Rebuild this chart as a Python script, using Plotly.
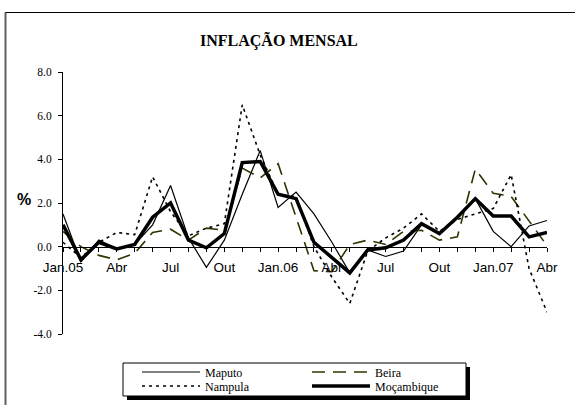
import plotly.graph_objects as go

# ---------------- data ----------------
months = ["Jan.05", "Fev.05", "Mar.05", "Abr.05", "Mai.05", "Jun.05", "Jul.05", "Ago.05",
          "Set.05", "Out.05", "Nov.05", "Dez.05", "Jan.06", "Fev.06", "Mar.06", "Abr.06",
          "Mai.06", "Jun.06", "Jul.06", "Ago.06", "Set.06", "Out.06", "Nov.06", "Dez.06",
          "Jan.07", "Fev.07", "Mar.07", "Abr.07"]

tick_months = ["Jan.05", "Abr.05", "Jul.05", "Out.05", "Jan.06", "Abr.06", "Jul.06",
               "Out.06", "Jan.07", "Abr.07"]
tick_texts = ["Jan.05", "Abr", "Jul", "Out", "Jan.06", "Abr", "Jul", "Out", "Jan.07", "Abr"]

maputo = [1.5, -0.7, 0.3, -0.1, 0.1, 1.0, 2.8, 0.4, -0.95, 0.3, 2.4, 4.4, 1.8, 2.5,
          1.5, 0.2, -1.2, -0.15, -0.45, -0.2, 1.0, 0.6, 1.3, 2.2, 0.7, 0.0, 0.95, 1.2]
beira = [0.7, 0.0, -0.4, -0.6, -0.3, 0.65, 0.8, 0.3, 0.85, 0.75, 3.6, 3.15, 3.8, 1.3,
         -1.1, -1.15, 0.1, 0.3, 0.1, 0.7, 0.75, 0.3, 0.45, 3.55, 2.45, 2.3, 1.2, 0.05]
nampula = [0.2, -0.5, 0.2, 0.65, 0.55, 3.2, 1.6, 0.5, 0.85, 1.05, 6.5, 4.2, 2.4, 2.3,
           0.0, -1.4, -2.6, -0.2, 0.4, 0.85, 1.5, 0.7, 1.25, 1.5, 1.75, 3.3, -1.0, -3.0]
mocambique = [1.0, -0.6, 0.2, -0.1, 0.1, 1.35, 2.0, 0.3, -0.05, 0.6, 3.85, 3.9, 2.4, 2.2,
              0.2, -0.5, -1.2, -0.15, -0.05, 0.3, 1.05, 0.6, 1.35, 2.2, 1.4, 1.4, 0.45, 0.65]

y_ticks = [-4, -2, 0, 2, 4, 6, 8]
y_tick_text = ["-4.0", "-2.0", "0.0", "2.0", "4.0", "6.0", "8.0"]

# ---------------- layout geometry ----------------
W, H = 575, 405
ML, MR, MT, MB = 63, 28, 72, 71
PW, PH = W - ML - MR, H - MT - MB


def px(p):
    return (p - ML) / PW


def py(p):
    return (H - MB - p) / PH


SERIF = "Liberation Serif, Times New Roman, serif"
SANS = "Liberation Sans, Arial, sans-serif"

fig = go.Figure()
fig.add_trace(go.Scatter(x=months, y=maputo, name="Maputo", mode="lines",
                         line=dict(color="black", width=1.2), legend="legend"))
fig.add_trace(go.Scatter(x=months, y=beira, name="Beira", mode="lines",
                         line=dict(color="#333300", width=1.6, dash="13px,8px"), legend="legend"))
fig.add_trace(go.Scatter(x=months, y=nampula, name="Nampula", mode="lines",
                         line=dict(color="black", width=1.6, dash="3px,4px"), legend="legend2"))
fig.add_trace(go.Scatter(x=months, y=mocambique, name="Moçambique", mode="lines",
                         line=dict(color="black", width=3.5), legend="legend2"))

shapes = [
    # outer frame
    dict(type="line", xref="paper", yref="paper", x0=px(5), x1=px(575), y0=py(12.5), y1=py(12.5),
         line=dict(color="black", width=1)),
    dict(type="line", xref="paper", yref="paper", x0=px(5.5), x1=px(5.5), y0=py(12.5), y1=py(405),
         line=dict(color="#606060", width=2)),
    # legend shadow and box
    dict(type="rect", xref="paper", yref="paper", x0=px(127), x1=px(470), y0=py(367), y1=py(400),
         fillcolor="black", line=dict(width=0), layer="above"),
    dict(type="rect", xref="paper", yref="paper", x0=px(123), x1=px(466), y0=py(363), y1=py(396),
         fillcolor="white", line=dict(color="black", width=1), layer="above"),
]

annotations = [
    dict(text="<b>INFLAÇÃO MENSAL</b>", xref="paper", yref="paper", x=px(279), y=py(40),
         showarrow=False, font=dict(family=SERIF, size=16, color="black"),
         xanchor="center", yanchor="middle"),
    dict(text="<b>%</b>", xref="paper", yref="paper", x=px(24), y=py(199.5),
         showarrow=False, font=dict(family=SANS, size=16, color="black"),
         xanchor="center", yanchor="middle"),
]

legend_common = dict(orientation="h", bgcolor="rgba(0,0,0,0)", borderwidth=0,
                     font=dict(family=SERIF, size=12, color="black"),
                     itemwidth=58, entrywidth=97, entrywidthmode="pixels",
                     xanchor="left", yanchor="middle", traceorder="normal")

fig.update_layout(
    template="none",
    width=W, height=H,
    margin=dict(l=ML, r=MR, t=MT, b=MB, pad=0, autoexpand=False),
    paper_bgcolor="white", plot_bgcolor="white",
    showlegend=True,
    legend=dict(legend_common, x=px(137), y=py(372)),
    legend2=dict(legend_common, x=px(137), y=py(386)),
    shapes=shapes,
    annotations=annotations,
    xaxis=dict(type="category", range=[0, len(months) - 1], anchor="free",
               position=4 / 12, showline=True, linecolor="black", linewidth=1,
               ticks="outside", ticklen=4, tickcolor="black", tickwidth=1,
               tickvals=months, automargin=False,
               ticktext=[tick_texts[tick_months.index(m)] if m in tick_months else ""
                         for m in months],
               tickangle=0, showgrid=False, zeroline=False, ticklabelstandoff=4,
               tickfont=dict(family=SANS, size=13.5, color="black")),
    yaxis=dict(range=[-4, 8], tickvals=y_ticks, ticktext=y_tick_text, automargin=False,
               showline=True, linecolor="black", linewidth=1,
               ticks="outside", ticklen=4, tickcolor="black",
               showgrid=False, zeroline=False, ticklabelstandoff=4,
               tickfont=dict(family=SERIF, size=11.5, color="black")),
)

fig.write_html("out.html", config={"displayModeBar": False},
               post_script="document.body.style.margin='0px';")
